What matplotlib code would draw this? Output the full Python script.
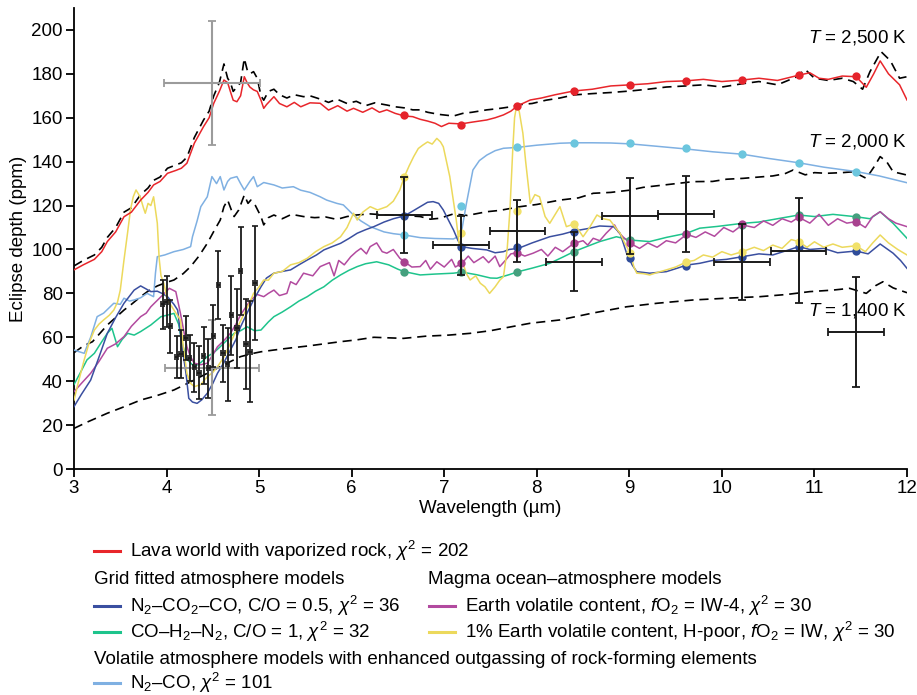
import numpy as np
import matplotlib
matplotlib.use("Agg")
import matplotlib.pyplot as plt
from matplotlib.lines import Line2D

plt.rcParams["font.family"] = ["Liberation Sans", "DejaVu Sans"]
plt.rcParams["mathtext.fontset"] = "custom"
plt.rcParams["mathtext.rm"] = "Liberation Sans"
plt.rcParams["mathtext.it"] = "Liberation Sans:italic"
plt.rcParams["mathtext.bf"] = "Liberation Sans:bold"

# ---- model spectra (wavelength um, eclipse depth ppm) ----
lava_world = [
    (3.00, 90.7), (3.10, 93), (3.22, 95.5), (3.30, 99), (3.36, 103.6), (3.45, 108),
    (3.54, 114.9), (3.62, 117), (3.72, 122.5), (3.80, 126), (3.86, 129.4), (3.93, 131),
    (4.01, 134.7), (4.10, 136), (4.16, 137), (4.22, 139.3), (4.30, 148.4), (4.40, 156),
    (4.46, 160), (4.51, 166.6), (4.57, 172), (4.62, 177.2), (4.66, 176), (4.69, 171.9),
    (4.72, 168), (4.76, 167.3), (4.80, 170), (4.84, 178.7), (4.87, 176), (4.90, 174),
    (4.94, 172.7), (4.98, 172), (5.02, 168), (5.05, 164.3), (5.08, 166), (5.16, 169.6),
    (5.22, 166.5), (5.30, 165), (5.38, 167), (5.45, 165), (5.55, 166.8), (5.66, 166.6),
    (5.75, 163.5), (5.85, 165.5), (5.95, 163), (6.02, 164.3), (6.12, 162.5), (6.22, 164.5),
    (6.30, 162.5), (6.38, 163.6), (6.47, 162), (6.57, 160.8), (6.66, 160.5), (6.74, 159.3),
    (6.82, 158.5), (6.90, 157.5), (6.97, 156), (7.05, 157.5), (7.18, 157.2), (7.30, 158),
    (7.46, 159), (7.55, 160), (7.64, 161.3), (7.72, 163), (7.79, 165.4), (7.93, 168.1),
    (8.05, 169), (8.20, 170.5), (8.40, 172.2), (8.60, 173), (8.80, 174.5), (9.01, 175),
    (9.20, 175.5), (9.40, 176.5), (9.61, 176.8), (9.80, 177.5), (10.00, 176.5), (10.22, 177.2),
    (10.40, 178), (10.60, 177), (10.84, 179.5), (10.95, 180.5), (11.05, 178), (11.15, 177.5),
    (11.30, 179), (11.45, 178.7), (11.56, 173.9), (11.64, 180), (11.71, 185.9), (11.80, 180),
    (11.92, 175), (12.00, 168.1),
]

bb_2500 = [
    (3.00, 92.5), (3.10, 95), (3.22, 97.5), (3.30, 101), (3.36, 105.5), (3.45, 110),
    (3.54, 117), (3.62, 119), (3.72, 125), (3.80, 128), (3.86, 131.5), (3.93, 133),
    (4.01, 137), (4.10, 138.5), (4.16, 139.5), (4.22, 142), (4.30, 151), (4.40, 159),
    (4.46, 163), (4.51, 170), (4.57, 176), (4.62, 184.5), (4.66, 178), (4.69, 176),
    (4.72, 172), (4.76, 174), (4.80, 176), (4.84, 187), (4.87, 182), (4.90, 180),
    (4.94, 181), (4.98, 178), (5.02, 170), (5.05, 168), (5.10, 172), (5.16, 173),
    (5.22, 170.5), (5.30, 169), (5.38, 170.5), (5.48, 169.6), (5.55, 170), (5.66, 168.5),
    (5.75, 167), (5.84, 168.5), (5.95, 166.5), (6.05, 167.5), (6.15, 165.5), (6.25, 166.8),
    (6.38, 165.8), (6.47, 165), (6.57, 164.5), (6.66, 163.6), (6.74, 163.6), (6.82, 162.5),
    (6.95, 161.5), (7.10, 160.8), (7.20, 162), (7.30, 162.5), (7.46, 163.6), (7.55, 164),
    (7.64, 164.5), (7.72, 165), (7.82, 166), (7.95, 166.5), (8.10, 168), (8.25, 169),
    (8.40, 170.4), (8.60, 171), (8.80, 171.5), (9.01, 172.2), (9.20, 173), (9.40, 174),
    (9.61, 174.5), (9.80, 175), (10.00, 174), (10.22, 175.5), (10.40, 176.5), (10.60, 175),
    (10.80, 178.5), (10.90, 182), (11.00, 178), (11.15, 177), (11.30, 178), (11.42, 176.5),
    (11.52, 173), (11.60, 181), (11.72, 190.1), (11.82, 186), (11.92, 178), (12.00, 178.7),
]

bb_2000 = [
    (3.00, 53), (3.10, 56), (3.20, 58), (3.36, 65.6), (3.45, 69), (3.54, 72.4),
    (3.62, 75), (3.72, 78.5), (3.80, 81), (3.90, 83.4), (4.00, 85), (4.08, 86.1),
    (4.18, 89), (4.26, 92.2), (4.35, 97), (4.44, 102.8), (4.52, 109), (4.58, 113.4),
    (4.62, 119.5), (4.66, 122.5), (4.70, 118), (4.73, 115), (4.78, 118), (4.84, 124.8),
    (4.88, 121), (4.91, 122.5), (4.96, 120), (5.02, 115), (5.05, 111.2), (5.10, 114.5),
    (5.16, 115.7), (5.25, 114), (5.35, 116), (5.48, 115), (5.60, 114.5), (5.72, 114.8),
    (5.84, 113.7), (5.95, 115), (6.05, 115.7), (6.20, 116.2), (6.38, 115.7), (6.55, 115.5),
    (6.74, 115), (6.85, 113.8), (6.95, 114.2), (7.10, 116.2), (7.25, 115.5), (7.46, 117.2),
    (7.60, 117.8), (7.82, 119.5), (8.00, 120.5), (8.25, 122.5), (8.45, 123.5), (8.61, 125.6),
    (8.80, 126), (9.00, 127), (9.15, 128.3), (9.40, 129.5), (9.69, 130.9), (9.90, 131),
    (10.05, 132), (10.23, 132.4), (10.40, 133), (10.55, 133.5), (10.68, 134.5), (10.77, 136.2),
    (10.90, 134), (11.00, 135), (11.13, 134.7), (11.30, 135), (11.42, 135.4), (11.56, 132.4),
    (11.65, 138), (11.71, 142.3), (11.78, 140), (11.85, 135.4), (12.00, 133.9),
]

bb_1400 = [
    (3.00, 18.5), (3.15, 21.5), (3.36, 25.4), (3.55, 28.5), (3.72, 31.4), (3.90, 33.5),
    (4.08, 36), (4.25, 39.5), (4.44, 43.6), (4.62, 47.5), (4.80, 51.2), (4.95, 52.8),
    (5.02, 53.4), (5.16, 54.2), (5.35, 55.2), (5.52, 56), (5.70, 57), (5.88, 58),
    (6.05, 58.8), (6.24, 60), (6.56, 59.5), (6.80, 60.5), (7.05, 61), (7.28, 61.8),
    (7.50, 63), (7.70, 64.6), (7.93, 66.4), (8.25, 67.9), (8.60, 71), (8.97, 73.9),
    (9.30, 75.5), (9.69, 77), (10.05, 77.8), (10.41, 78.5), (10.70, 79.5), (10.95, 80.8),
    (11.20, 81.5), (11.38, 82.3), (11.56, 80), (11.66, 83.5), (11.74, 85.3), (11.85, 82.5),
    (12.00, 80.3),
]

n2_co = [
    (3.00, 54.2), (3.05, 53.5), (3.11, 52.7), (3.18, 60), (3.25, 69.4), (3.32, 71),
    (3.43, 75.5), (3.50, 75), (3.54, 77.8), (3.60, 76.5), (3.65, 77), (3.72, 78),
    (3.79, 80), (3.86, 78.5), (3.88, 89.2), (3.90, 96.7), (3.98, 97.5), (4.08, 99),
    (4.18, 100), (4.26, 101.3), (4.28, 105.8), (4.33, 113), (4.37, 119.5), (4.44, 124),
    (4.49, 133.2), (4.54, 130), (4.58, 133.2), (4.62, 127.1), (4.66, 131), (4.69, 132.4),
    (4.76, 133.2), (4.80, 130), (4.84, 127.1), (4.90, 131), (4.94, 133.2), (4.98, 128.6),
    (5.05, 130.5), (5.16, 129.4), (5.25, 128), (5.37, 128.6), (5.45, 127), (5.55, 126),
    (5.66, 124), (5.73, 122.5), (5.84, 121), (5.91, 120.3), (6.02, 115.7), (6.10, 113),
    (6.20, 110.4), (6.35, 108), (6.45, 107.2), (6.57, 106.6), (6.74, 105.4), (6.90, 105),
    (7.10, 104.8), (7.16, 106), (7.19, 108.9), (7.24, 121), (7.31, 136.2), (7.38, 140.5),
    (7.46, 143), (7.55, 145), (7.64, 146.1), (7.79, 146.5), (8.00, 147.5), (8.25, 148.4),
    (8.40, 148.6), (8.60, 148.6), (8.80, 148.5), (9.01, 148.1), (9.30, 147), (9.61, 145.8),
    (9.90, 144.5), (10.22, 143.4), (10.50, 141.5), (10.83, 139.5), (11.10, 137.5), (11.45, 135.5),
    (11.70, 133.5), (12.00, 130.4),
]

n2_co2_co = [
    (3.00, 28.4), (3.08, 34), (3.18, 40.5), (3.27, 51), (3.36, 61.8), (3.45, 69),
    (3.54, 75.5), (3.65, 81.5), (3.72, 83.4), (3.78, 82), (3.83, 80.8), (3.90, 81),
    (3.95, 80), (4.01, 78.5), (4.08, 75), (4.12, 72.4), (4.15, 61.8), (4.18, 52),
    (4.21, 43.6), (4.24, 32.2), (4.28, 30.5), (4.33, 29.9), (4.38, 31.5), (4.44, 34.5),
    (4.50, 39), (4.55, 43.6), (4.62, 48.5), (4.69, 54.2), (4.75, 59), (4.80, 64.8),
    (4.87, 71), (4.94, 77), (5.02, 83), (5.08, 87), (5.16, 89.2), (5.25, 90),
    (5.34, 90.7), (5.43, 93), (5.52, 95.2), (5.62, 97.5), (5.70, 99.8), (5.80, 101.5),
    (5.88, 102.8), (5.97, 105), (6.06, 107.4), (6.15, 109), (6.24, 110.4), (6.35, 112.5),
    (6.45, 114), (6.57, 115.3), (6.66, 117.5), (6.74, 119.5), (6.82, 121.5), (6.88, 121.8),
    (6.94, 121), (6.99, 118), (7.05, 113), (7.10, 108.9), (7.15, 104), (7.19, 101.3),
    (7.30, 100.5), (7.46, 99.8), (7.55, 98.5), (7.64, 99), (7.70, 100), (7.80, 100.5),
    (7.95, 103), (8.14, 105.8), (8.28, 107), (8.40, 108.4), (8.55, 109.5), (8.68, 110.7),
    (8.83, 110.4), (8.90, 107.4), (8.97, 98.3), (9.03, 93), (9.08, 89.9), (9.22, 89.2),
    (9.40, 89.9), (9.52, 91.5), (9.62, 92.9), (9.76, 93.7), (9.90, 95), (10.05, 95.5),
    (10.22, 96.7), (10.40, 98), (10.55, 97.5), (10.70, 99.5), (10.83, 101.3), (10.95, 100),
    (11.10, 100.5), (11.25, 98.5), (11.45, 99.3), (11.58, 98), (11.71, 102.5), (11.85, 98.3),
    (11.93, 95), (12.00, 91.4),
]

co_h2_n2 = [
    (3.00, 38.5), (3.07, 44), (3.14, 49.7), (3.22, 52.7), (3.30, 58), (3.36, 61.8),
    (3.41, 64.1), (3.47, 55.7), (3.52, 59), (3.58, 61.8), (3.65, 61), (3.72, 62.6),
    (3.83, 65.6), (3.94, 69.4), (4.00, 70), (4.08, 70.9), (4.13, 66), (4.17, 57),
    (4.22, 50), (4.30, 46.6), (4.37, 48.5), (4.44, 51.2), (4.51, 53), (4.58, 55.7),
    (4.66, 59), (4.73, 61.8), (4.80, 63), (4.87, 64.8), (4.95, 63), (5.02, 63.3),
    (5.10, 67), (5.16, 69.4), (5.25, 71.5), (5.34, 73.9), (5.43, 76.5), (5.52, 78.5),
    (5.61, 81), (5.70, 83), (5.79, 86), (5.88, 88.4), (5.97, 90.5), (6.06, 92.2),
    (6.15, 93.5), (6.27, 94.4), (6.40, 93), (6.50, 91), (6.57, 89.9), (6.74, 88.4),
    (6.90, 88.8), (7.10, 89.2), (7.19, 89.7), (7.35, 88.5), (7.50, 87), (7.57, 86.9),
    (7.70, 88.5), (7.80, 89.9), (7.95, 91.5), (8.14, 93.7), (8.28, 96.5), (8.40, 99),
    (8.55, 101.5), (8.68, 103.6), (8.86, 105.8), (9.01, 104.3), (9.22, 103.6), (9.40, 105.5),
    (9.62, 107.4), (9.76, 109.7), (9.95, 110.5), (10.22, 111.9), (10.40, 112.5), (10.60, 114),
    (10.83, 115.7), (11.00, 115), (11.20, 116), (11.45, 114.9), (11.60, 114), (11.71, 117.2),
    (11.85, 111.9), (12.00, 105.1),
]

earth_iw4 = [
    (3.00, 35.2), (3.08, 39), (3.18, 43.6), (3.27, 49), (3.36, 55), (3.45, 57),
    (3.54, 60.3), (3.62, 65), (3.72, 69.4), (3.78, 71), (3.83, 73.9), (3.88, 76),
    (3.94, 78.5), (4.03, 82.3), (4.10, 80.8), (4.15, 70.9), (4.19, 62), (4.22, 55.7),
    (4.26, 51), (4.30, 48.2), (4.37, 47.5), (4.44, 48.2), (4.50, 52), (4.55, 55.7),
    (4.62, 58.5), (4.69, 61.8), (4.75, 66), (4.80, 70.2), (4.86, 74), (4.91, 77),
    (4.98, 79.5), (5.05, 78.5), (5.10, 80), (5.16, 81.5), (5.22, 79), (5.30, 80),
    (5.34, 85.3), (5.40, 84), (5.48, 89.2), (5.58, 88), (5.66, 92.2), (5.76, 94),
    (5.81, 88), (5.86, 95), (5.92, 93), (5.99, 96.7), (6.05, 99), (6.10, 100.5),
    (6.16, 98), (6.20, 101.3), (6.27, 103), (6.33, 99), (6.38, 98.3), (6.45, 100),
    (6.52, 96), (6.57, 94.4), (6.65, 92), (6.74, 92.2), (6.80, 95), (6.85, 91),
    (6.92, 94.4), (7.00, 92), (7.08, 95.5), (7.12, 92), (7.19, 93.7), (7.26, 97),
    (7.32, 94), (7.42, 96.7), (7.48, 94), (7.55, 97), (7.60, 92.2), (7.66, 95),
    (7.72, 98), (7.79, 98.5), (7.87, 97), (7.96, 98.3), (8.05, 100), (8.12, 97),
    (8.20, 101), (8.28, 99), (8.40, 102.8), (8.50, 104), (8.55, 102), (8.61, 105.1),
    (8.68, 104), (8.75, 107.4), (8.84, 111.2), (8.88, 108), (8.93, 105.8), (9.01, 102.8),
    (9.11, 100.5), (9.20, 103), (9.30, 101), (9.40, 104), (9.50, 103), (9.62, 106.9),
    (9.72, 105.5), (9.82, 108), (9.92, 106), (10.02, 110), (10.12, 108), (10.22, 111.2),
    (10.35, 110), (10.45, 113), (10.55, 111), (10.65, 114), (10.75, 112.5), (10.83, 114.7),
    (10.95, 112), (11.05, 116), (11.15, 111), (11.25, 114), (11.35, 112), (11.45, 112.7),
    (11.55, 110), (11.63, 115), (11.71, 117.2), (11.80, 114), (11.88, 112), (12.00, 110.4),
]

earth1_iw = [
    (3.00, 31.4), (3.05, 40), (3.11, 49.7), (3.16, 57), (3.22, 63.3), (3.27, 66),
    (3.32, 67.9), (3.38, 70), (3.43, 72.4), (3.47, 76), (3.50, 81.5), (3.54, 95.2),
    (3.58, 108), (3.61, 118), (3.64, 124), (3.67, 127.1), (3.70, 125), (3.72, 123.3),
    (3.75, 119), (3.77, 116.5), (3.80, 121), (3.83, 120), (3.86, 124), (3.90, 112),
    (3.92, 96), (3.94, 88), (3.97, 84.6), (4.01, 77), (4.08, 72.4), (4.15, 67.9),
    (4.18, 56), (4.22, 43.6), (4.26, 39), (4.30, 37.5), (4.37, 38.5), (4.44, 42),
    (4.50, 44), (4.55, 46.6), (4.62, 51), (4.69, 57.3), (4.76, 64), (4.84, 70.9),
    (4.89, 75), (4.94, 80), (5.00, 83), (5.05, 86.1), (5.10, 86), (5.16, 89.2),
    (5.25, 90), (5.34, 93), (5.43, 94), (5.52, 96), (5.61, 99), (5.70, 101.3),
    (5.79, 103), (5.88, 105.8), (5.95, 110), (6.02, 116.5), (6.06, 113.4), (6.12, 117),
    (6.20, 119.5), (6.28, 118), (6.38, 119.5), (6.45, 122), (6.52, 127.1), (6.57, 133.2),
    (6.62, 138), (6.67, 142.3), (6.72, 146), (6.77, 147.6), (6.82, 149), (6.87, 148),
    (6.92, 150.6), (6.96, 149), (6.99, 146.8), (7.02, 141), (7.06, 133.2), (7.10, 122),
    (7.13, 113.4), (7.16, 103), (7.19, 95.2), (7.24, 89), (7.28, 86.1), (7.34, 88),
    (7.39, 84.6), (7.44, 83), (7.49, 80), (7.55, 83), (7.60, 86), (7.64, 87.6),
    (7.68, 100), (7.71, 118), (7.74, 145), (7.76, 160), (7.78, 165), (7.81, 163),
    (7.85, 152.9), (7.88, 140), (7.93, 121), (7.98, 125), (8.03, 124), (8.09, 115),
    (8.14, 111.9), (8.20, 116), (8.25, 119.5), (8.32, 110.4), (8.40, 111.6), (8.45, 109),
    (8.50, 105.8), (8.57, 110), (8.65, 115.7), (8.72, 114), (8.79, 113.4), (8.85, 110),
    (8.90, 107.4), (8.95, 103), (9.01, 98.3), (9.05, 92), (9.08, 89.2), (9.15, 89),
    (9.22, 88.4), (9.30, 89.5), (9.40, 90.7), (9.50, 92), (9.62, 94.4), (9.70, 95),
    (9.80, 97.5), (9.90, 96.5), (10.00, 99), (10.10, 97.5), (10.22, 99), (10.35, 101),
    (10.45, 99.5), (10.55, 102), (10.65, 100.5), (10.75, 104.5), (10.83, 103.6), (10.92, 101),
    (11.00, 103.5), (11.10, 101), (11.20, 102.5), (11.30, 101), (11.45, 101.7), (11.55, 99),
    (11.63, 103), (11.71, 106.6), (11.80, 103), (11.90, 100), (12.00, 97.5),
]

# ---- models binned to the MIRI points ----
miri_wl = [6.57, 7.18, 7.79, 8.40, 9.01, 9.61, 10.22, 10.83, 11.45]
bin_lava = [161.3, 156.7, 165.4, 172.2, 175.0, 176.6, 177.2, 179.5, 178.8]
bin_n2_co = [106.6, 119.8, 146.5, 148.5, 148.3, 146.0, 143.4, 139.5, 135.5]
bin_n2_co2_co = [115.3, 101.0, 101.0, 108.1, 96.0, 92.6, 96.7, 101.3, 99.5]
bin_co_h2_n2 = [89.9, 89.9, 89.9, 99.0, 104.3, 107.0, 111.2, 115.7, 114.9]
bin_earth_iw4 = [94.5, 94.0, 98.3, 102.8, 103.0, 107.0, 111.5, 114.7, 112.7]
bin_earth1_iw = [133.2, 107.4, 117.7, 111.6, 98.3, 94.4, 99.0, 103.6, 101.7]

# ---- observations ----
miri_ppm = [115.7, 101.9, 108.4, 94.5, 115.3, 116.2, 94.4, 99.5, 62.5]
miri_yerr = [17.5, 13.5, 14.0, 13.5, 17.2, 17.2, 17.2, 24.0, 25.0]
miri_xerr = [0.30, 0.30, 0.30, 0.30, 0.30, 0.30, 0.30, 0.30, 0.30]

nrs_wl = [3.958, 4.00, 4.04, 4.11, 4.156, 4.21, 4.25, 4.30, 4.35, 4.40, 4.45,
          4.505, 4.56, 4.61, 4.66, 4.70, 4.76, 4.80, 4.86, 4.90, 4.955]
nrs_ppm = [75.0, 76.2, 65.0, 50.9, 52.4, 59.5, 50.4, 46.3, 43.9, 51.5, 45.9,
           60.6, 83.8, 52.7, 47.7, 70.0, 64.1, 90.3, 56.8, 53.4, 84.6]
nrs_yerr = [11.2, 11.5, 12.0, 9.6, 11.0, 10.0, 10.5, 11.0, 12.0, 13.0, 13.5,
            14.0, 15.5, 13.0, 16.5, 18.0, 18.0, 20.0, 20.5, 23.0, 26.0]

broad_wl = [4.49, 4.49]
broad_ppm = [175.7, 46.2]
broad_yerr = [28.3, 21.5]
broad_xerr = [0.52, 0.505]

RED = "#e8262b"
NAVY = "#3a4fa0"
GREEN = "#1ec48c"
MAGENTA = "#b24a9f"
YELLOW = "#ecd95c"
LBLUE = "#7fb0e2"
FS = 13.5

fig = plt.figure(figsize=(9.17, 6.95), dpi=100)
ax = fig.add_axes([74 / 917, 1 - 469 / 695, 833 / 917, 461 / 695])

# blackbody reference curves
for data in [bb_1400, bb_2000, bb_2500]:
    x, y = np.array(data).T
    ax.plot(x, y, color="black", lw=1.2, ls=(0, (5.5, 3.5)), zorder=2)

# atmosphere models
for data, col in [(n2_co, LBLUE), (co_h2_n2, GREEN), (earth_iw4, MAGENTA),
                  (n2_co2_co, NAVY), (earth1_iw, YELLOW), (lava_world, RED)]:
    x, y = np.array(data).T
    ax.plot(x, y, color=col, lw=1.1, zorder=3)

# binned model values
for vals, col in [(bin_lava, "#e5232b"), (bin_n2_co, "#6cc6de"), (bin_co_h2_n2, "#45a07e"),
                  (bin_earth_iw4, "#a8428f"), (bin_n2_co2_co, "#2f4c9a"), (bin_earth1_iw, "#f1e16a")]:
    ax.plot(miri_wl, vals, ls="none", marker="o", ms=6, color=col, mec="none", zorder=4)

ax.errorbar(broad_wl, broad_ppm, yerr=broad_yerr, xerr=broad_xerr, fmt="none",
            ecolor="#9b9b9b", elinewidth=1.5, capsize=3, capthick=1.3, zorder=5)
ax.errorbar(nrs_wl, nrs_ppm, yerr=nrs_yerr, xerr=0.018, fmt="none",
            ecolor="#1a1a1a", elinewidth=1.3, capsize=2.2, capthick=1.2, zorder=6)
ax.errorbar(miri_wl, miri_ppm, yerr=miri_yerr, xerr=miri_xerr, fmt="none",
            ecolor="#1a1a1a", elinewidth=1.4, capsize=3, capthick=1.3, zorder=6)

ax.set_xlim(3, 12)
ax.set_ylim(0, 210)
ax.set_xticks(range(3, 13))
ax.set_yticks(range(0, 201, 20))
for s in ["top", "right"]:
    ax.spines[s].set_visible(False)
for s in ["left", "bottom"]:
    ax.spines[s].set_linewidth(1.3)
ax.tick_params(direction="out", length=6, width=1.3, labelsize=FS, pad=2)
ax.set_xlabel("Wavelength (µm)", fontsize=FS, labelpad=2)
ax.set_ylabel("Eclipse depth (ppm)", fontsize=FS, labelpad=3)

for txt, yv in [("$T$ = 2,500 K", 196.5), ("$T$ = 2,000 K", 149), ("$T$ = 1,400 K", 72.4)]:
    ax.text(12.0, yv, txt, ha="right", va="center", fontsize=FS)


# ---- legend drawn by hand below the axes ----
def px(x, y):
    return x / 917, 1 - y / 695


def entry(x, y, color, label):
    x0, yy = px(x, y)
    x1, _ = px(x + 26, y)
    fig.add_artist(Line2D([x0, x1], [yy, yy], transform=fig.transFigure, color=color, lw=2.2))
    tx, _ = px(x + 36, y)
    fig.text(tx, yy, label, va="center", ha="left", fontsize=FS)


def heading(x, y, label):
    hx, hy = px(x, y)
    fig.text(hx, hy, label, va="center", ha="left", fontsize=FS)


entry(94, 551, RED, r"Lava world with vaporized rock, $\chi^2$ = 202")
heading(94, 580, "Grid fitted atmosphere models")
entry(94, 606, NAVY, r"N$_2$–CO$_2$–CO, C/O = 0.5, $\chi^2$ = 36")
entry(94, 632, GREEN, r"CO–H$_2$–N$_2$, C/O = 1, $\chi^2$ = 32")
heading(428, 580, "Magma ocean–atmosphere models")
entry(429, 606, MAGENTA, r"Earth volatile content, $f$O$_2$ = IW-4, $\chi^2$ = 30")
entry(429, 632, YELLOW, r"1% Earth volatile content, H-poor, $f$O$_2$ = IW, $\chi^2$ = 30")
heading(94, 659, "Volatile atmosphere models with enhanced outgassing of rock-forming elements")
entry(94, 683, LBLUE, r"N$_2$–CO, $\chi^2$ = 101")

fig.savefig("out.png", dpi=100)
